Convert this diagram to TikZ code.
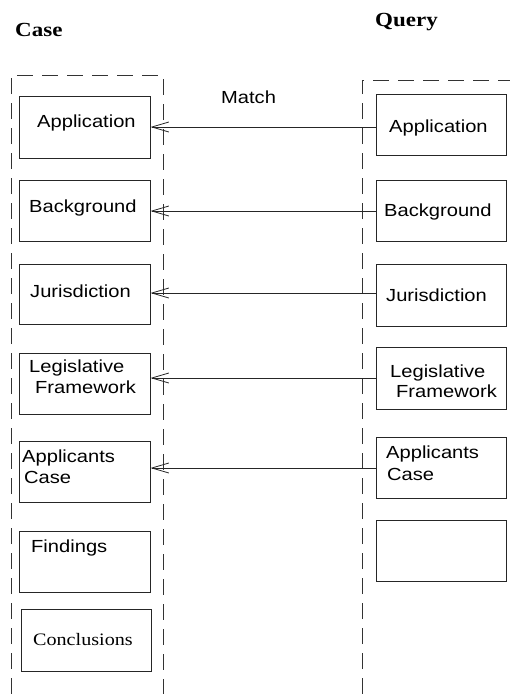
\documentclass[tikz,border=0pt]{standalone}
\usepackage{fontspec}
\setmainfont{Liberation Serif}[FakeStretch=1.15]
\newfontfamily\sansf{Liberation Sans}[FakeStretch=1.15]
\usetikzlibrary{arrows.meta}
\begin{document}
\begin{tikzpicture}[x=1pt,y=-1pt,
  box/.style={draw=black!85,line width=0.9pt,minimum width=131pt,inner sep=0pt},
  lbl/.style={anchor=base west,inner sep=0pt,font=\sansf\fontsize{17.5}{21}\selectfont},
  slbl/.style={anchor=base west,inner sep=0pt,font=\fontsize{17.5}{21}\selectfont},
  head/.style={anchor=base west,inner sep=0pt,font=\bfseries\fontsize{20}{24}\selectfont},
  grp/.style={draw=black!80,line width=0.9pt,dash pattern=on 16pt off 9pt},
  arr/.style={draw=black!85,line width=0.8pt,-{Straight Barb[length=17pt,width=10pt,line width=0.8pt]}}]
\useasboundingbox (0,0) rectangle (510,694);
% headers
\node[head] (hcase) at (15,36) {Case};
\node[head] (hquery) at (375,26) {Query};
\node[lbl] (match) at (221,103) {Match};
% dashed groups
\draw[grp] (11,694) -- (11,75) -- (163,75) -- (163,694);
\draw[grp] (362,694) -- (362,80) -- (510,80);
% case boxes
\node[box,minimum height=62pt] (ca) at (84.5,127) {};
\node[box,minimum height=61pt] (cb) at (84.5,210.5) {};
\node[box,minimum height=60pt] (cj) at (84.5,294) {};
\node[box,minimum height=61pt] (cl) at (84.5,383.5) {};
\node[box,minimum height=61pt] (cp) at (84.5,471.5) {};
\node[box,minimum height=61pt] (cf) at (84.5,561.5) {};
\node[box,minimum height=62pt,minimum width=130pt] (cc) at (86,640) {};
% query boxes
\node[box,minimum height=61pt,minimum width=130pt] (qa) at (441,124.5) {};
\node[box,minimum height=61pt,minimum width=130pt] (qb) at (441,210.5) {};
\node[box,minimum height=62pt,minimum width=130pt] (qj) at (441,295) {};
\node[box,minimum height=62pt,minimum width=130pt] (ql) at (441,378) {};
\node[box,minimum height=61pt,minimum width=130pt] (qp) at (441,467.5) {};
\node[box,minimum height=61pt,minimum width=130pt] (qe) at (441,550.5) {};
% case texts
\node[lbl] (tca) at (37,127) {Application};
\node[lbl] (tcb) at (29,212) {Background};
\node[lbl] (tcj) at (30,297) {Jurisdiction};
\node[lbl] (tcl1) at (29,372) {Legislative};
\node[lbl] (tcl2) at (35,393) {Framework};
\node[lbl] (tcp1) at (22,462) {Applicants};
\node[lbl] (tcp2) at (24,483) {Case};
\node[lbl] (tcf) at (31,552) {Findings};
\node[slbl] (tcc) at (33,645) {Conclusions};
% query texts
\node[lbl] (tqa) at (389,132) {Application};
\node[lbl] (tqb) at (384,216) {Background};
\node[lbl] (tqj) at (386,301) {Jurisdiction};
\node[lbl] (tql1) at (390,377) {Legislative};
\node[lbl] (tql2) at (396,397) {Framework};
\node[lbl] (tqp1) at (386,458) {Applicants};
\node[lbl] (tqp2) at (387,480) {Case};
% arrows
\draw[arr] (qa.west |- 0,127) -- (ca.east |- 0,127);
\draw[arr] (qb.west |- 0,211) -- (cb.east |- 0,211);
\draw[arr] (qj.west |- 0,293) -- (cj.east |- 0,293);
\draw[arr] (ql.west |- 0,378) -- (cl.east |- 0,378);
\draw[arr] (qp.west |- 0,468) -- (cp.east |- 0,468);
\end{tikzpicture}
\end{document}
